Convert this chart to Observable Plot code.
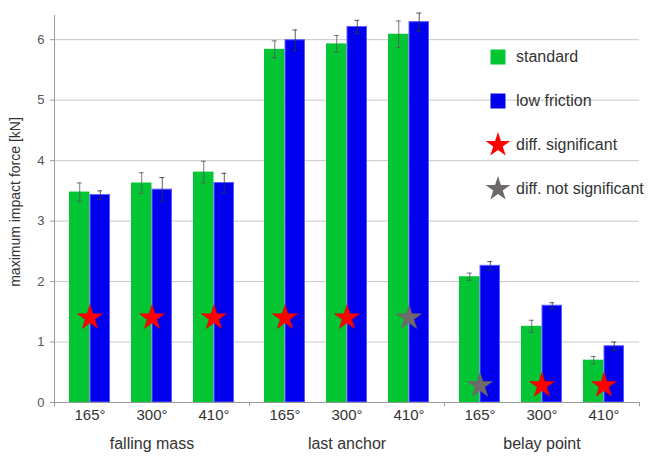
<!DOCTYPE html>
<html>
<head>
<meta charset="utf-8">
<script src="https://cdn.jsdelivr.net/npm/d3@7"></script>
<script src="https://cdn.jsdelivr.net/npm/@observablehq/plot@0.6"></script>
<style>
  html, body { margin: 0; padding: 0; background: #fff; }
  #wrap { position: relative; width: 652px; height: 456px; font-family: "Liberation Sans", Arial, sans-serif; }
  #legend { position: absolute; left: 484px; top: 35px; }
  .row { display: flex; align-items: center; height: 44px; }
  .row svg { width: 28px; height: 28px; flex: none; }
  .row span { font-size: 16px; color: #333; margin-left: 4px; }
</style>
</head>
<body>
<div id="wrap"><div id="legend"></div></div>
<script>
// ---- data ----
const groups = ["falling mass", "last anchor", "belay point"];
const angles = ["165°", "300°", "410°"];
const standard       = [3.48, 3.63, 3.81, 5.84, 5.93, 6.09, 2.08, 1.26, 0.70];
const standardErr    = [0.15, 0.17, 0.18, 0.14, 0.14, 0.22, 0.06, 0.10, 0.06];
const lowFriction    = [3.43, 3.52, 3.63, 5.99, 6.21, 6.29, 2.26, 1.60, 0.93];
const lowFrictionErr = [0.07, 0.20, 0.16, 0.17, 0.11, 0.15, 0.07, 0.05, 0.07];
const significant    = [true, true, true, true, true, false, false, true, true];
const starLevel      = [1.4, 1.4, 0.28];
const yTicks = [0, 1, 2, 3, 4, 5, 6];
const seriesNames = ["standard", "low friction"];
const starNames = ["diff. significant", "diff. not significant"];
const yTitle = "maximum impact force [kN]";

// ---- styles / layout ----
const GREEN = "#04c634", BLUE = "#0000ee", RED = "#ff0000", GRAY = "#6e6a6b";
const W = 652, H = 456, ML = 53, MR = 13, MT = 15, MB = 54;
const PI = 0.34, PO = 0.24;
const fw = (W - ML - MR) / groups.length;
const step = fw / (angles.length - PI + 2 * PO);
const bw = step * (1 - PI);
const half = bw / 2;
const edge = half + PO * step; // from band center to facet edge
const cap = 2.5;

const rows = [];
groups.forEach((g, gi) => angles.forEach((a, ai) => {
  const i = gi * angles.length + ai;
  rows.push({group: g, angle: a, std: standard[i], stdErr: standardErr[i],
             low: lowFriction[i], lowErr: lowFrictionErr[i],
             sig: significant[i], star: starLevel[gi]});
}));

const first = rows.filter(d => d.angle === angles[0]);
const lastOne = rows.filter(d => d.group === groups[groups.length - 1] && d.angle === angles[angles.length - 1]);
const yAxisRow = rows.filter(d => d.group === groups[0] && d.angle === angles[0]);

const plot = Plot.plot({
  width: W, height: H,
  marginLeft: ML, marginRight: MR, marginTop: MT, marginBottom: MB,
  style: {fontFamily: "'Liberation Sans', Arial, sans-serif", fontSize: "14px", color: "#333", background: "#fff"},
  fx: {domain: groups, padding: 0},
  x: {domain: angles, paddingInner: PI, paddingOuter: PO},
  y: {domain: [0, 6.4]},
  marks: [
    Plot.gridY(yTicks, {stroke: "#c8c8c8", strokeOpacity: 1}),
    Plot.axisY(yTicks, {anchor: "left", tickSize: 4, tickPadding: 6, fontSize: 13, stroke: "#999",
      fill: "#555", tickFormat: d => String(d), label: null}),
    Plot.axisX({tickSize: 0, tickPadding: 7, fontSize: 15, fill: "#333", label: null}),
    Plot.axisFx({anchor: "bottom", tickSize: 0, tickPadding: 35, fontSize: 16, fill: "#333", label: null}),
    Plot.barY(rows, {fx: "group", x: "angle", y: "std", fill: GREEN, insetRight: half}),
    Plot.barY(rows, {fx: "group", x: "angle", y: "low", fill: BLUE, stroke: "#5a5aff", strokeWidth: 1, insetLeft: half + 0.5, insetRight: 0.5}),
    // error bars
    Plot.ruleX(rows, {fx: "group", x: "angle", y1: d => d.std - d.stdErr, y2: d => d.std + d.stdErr, dx: -half / 2, stroke: "#555", strokeWidth: 0.8}),
    Plot.ruleX(rows, {fx: "group", x: "angle", y1: d => d.low - d.lowErr, y2: d => d.low + d.lowErr, dx: half / 2, stroke: "#333", strokeWidth: 0.8}),
    Plot.tickY(rows, {fx: "group", x: "angle", y: d => d.std + d.stdErr, insetLeft: half / 2 - cap, insetRight: half * 1.5 - cap, stroke: "#555", strokeWidth: 0.8}),
    Plot.tickY(rows, {fx: "group", x: "angle", y: d => d.std - d.stdErr, insetLeft: half / 2 - cap, insetRight: half * 1.5 - cap, stroke: "#555", strokeWidth: 0.8}),
    Plot.tickY(rows, {fx: "group", x: "angle", y: d => d.low + d.lowErr, insetLeft: half * 1.5 - cap, insetRight: half / 2 - cap, stroke: "#333", strokeWidth: 0.8}),
    Plot.tickY(rows, {fx: "group", x: "angle", y: d => d.low - d.lowErr, insetLeft: half * 1.5 - cap, insetRight: half / 2 - cap, stroke: "#333", strokeWidth: 0.8}),
    // baseline, y axis line, group separators
    Plot.ruleY([0], {stroke: "#999"}),
    Plot.ruleX(yAxisRow, {fx: "group", x: "angle", dx: -edge, y1: 0, y2: 6.4, stroke: "#999"}),
    Plot.ruleX(first, {fx: "group", x: "angle", dx: -edge, y1: 0, y2: -0.07, stroke: "#999"}),
    Plot.ruleX(lastOne, {fx: "group", x: "angle", dx: edge, y1: 0, y2: -0.07, stroke: "#999"}),
    // y axis title (first facet only, centered vertically on the frame)
    Plot.text(yAxisRow, {fx: "group", frameAnchor: "left", text: () => yTitle, rotate: -90,
      textAnchor: "middle", dx: -39, dy: -7, fontSize: 14, fill: "#333"}),
    // stars
    Plot.dot(rows, {fx: "group", x: "angle", y: "star", symbol: "star", r: 7.8,
      fill: d => d.sig ? RED : GRAY, stroke: d => d.sig ? "#e00000" : "#666", strokeWidth: 0.6})
  ]
});
document.getElementById("wrap").prepend(plot);

// ---- legend ----
const legend = d3.select("#legend");
const items = [
  {label: seriesNames[0], kind: "square", color: GREEN},
  {label: seriesNames[1], kind: "square", color: BLUE},
  {label: starNames[0], kind: "star", color: RED},
  {label: starNames[1], kind: "star", color: GRAY}
];
items.forEach(it => {
  const row = legend.append("div").attr("class", "row");
  const svg = row.append("svg").attr("viewBox", "-14 -14 28 28");
  if (it.kind === "square") {
    svg.append("rect").attr("x", -7.5).attr("y", -7.5).attr("width", 15).attr("height", 15).attr("fill", it.color);
  } else {
    svg.append("path").attr("d", d3.symbol(d3.symbolStar, Math.PI * 7.8 * 7.8)()).attr("fill", it.color);
  }
  row.append("span").text(it.label);
});
</script>
</body>
</html>
